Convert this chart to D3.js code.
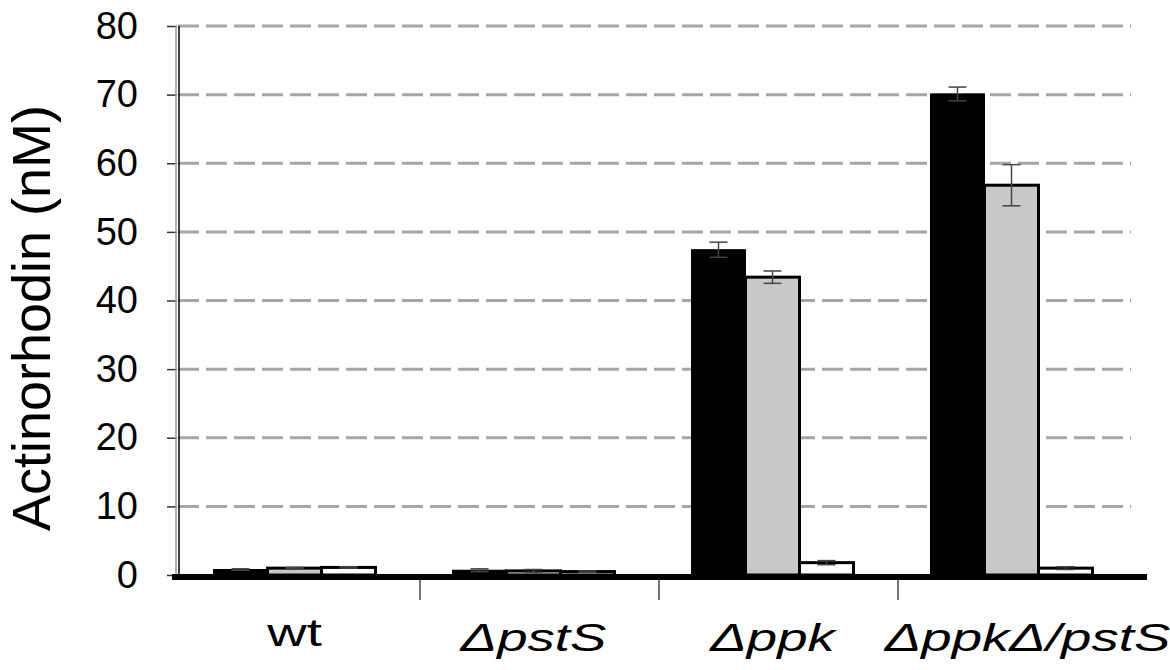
<!DOCTYPE html>
<html>
<head>
<meta charset='UTF-8' />
<title>Actinorhodin</title>
<style>
	body { margin: 0; background: #ffffff; }
	svg { display: block; font-family: 'Liberation Sans', Arial, sans-serif; }
	.grid line { stroke: #a6a6a6; stroke-width: 3px; stroke-dasharray: 21,7; }
	.y.axis text { font-size: 38px; fill: #000; }
	.y.axis line { stroke: #333; stroke-width: 1.5px; }
	.err { stroke: #444; stroke-width: 1.5px; fill: none; }
</style>
</head>
<body>
<script src='https://d3js.org/d3.v7.min.js'></script>
<script>
'use strict';
const categories = ['wt', '\u0394pstS', '\u0394ppk', '\u0394ppk\u0394/pstS'];
const seriesNames = ['black', 'gray', 'white'];
const blackValues = [0.8, 0.7, 47.4, 70.1];
const blackErrors = [0.1, 0.2, 1.1, 1.0];
const grayValues = [1.0, 0.6, 43.4, 56.8];
const grayErrors = [0.1, 0.2, 0.9, 3.0];
const whiteValues = [1.1, 0.5, 1.8, 1.0];
const whiteErrors = [0.1, 0.1, 0.3, 0.2];
const yTicks = [0, 10, 20, 30, 40, 50, 60, 70, 80];

const width = 1170, height = 670;
const fills = { black: '#000000', gray: '#c8c8c8', white: '#ffffff' };
const strokes = { black: 1, gray: 3, white: 3 };

const svg = d3.select('body').append('svg')
	.attr('width', width)
	.attr('height', height);

const x0 = d3.scaleBand()
	.domain(categories)
	.range([175, 1131]);

const x1 = d3.scaleBand()
	.domain(seriesNames)
	.range([0, x0.bandwidth()])
	.paddingOuter(0.713);

const y = d3.scaleLinear()
	.domain([0, 80])
	.range([575, 26]);

// dashed gridlines
svg.append('g')
	.attr('class', 'grid')
	.selectAll('line')
	.data(yTicks.filter(function(d) { return d > 0; }))
	.enter().append('line')
	.attr('x1', 178)
	.attr('x2', 1131)
	.attr('y1', function(d) { return y(d); })
	.attr('y2', function(d) { return y(d); });

// y axis (double line like the original)
const yAxis = svg.append('g')
	.attr('class', 'y axis')
	.attr('transform', 'translate(177,0)')
	.call(d3.axisLeft(y).tickValues(yTicks).tickSize(10).tickPadding(29));
yAxis.select('.domain').remove();
svg.append('line')
	.attr('x1', 176).attr('x2', 176)
	.attr('y1', y(80)).attr('y2', y(0))
	.attr('stroke', '#999').attr('stroke-width', 1.5);
svg.append('line')
	.attr('x1', 179).attr('x2', 179)
	.attr('y1', y(80)).attr('y2', y(0))
	.attr('stroke', '#000').attr('stroke-width', 1.5);

// bars
const rows = categories.map(function(c, i) {
	return [
		{ cat: c, s: 'black', v: blackValues[i], e: blackErrors[i] },
		{ cat: c, s: 'gray', v: grayValues[i], e: grayErrors[i] },
		{ cat: c, s: 'white', v: whiteValues[i], e: whiteErrors[i] }
	];
});

const groups = svg.append('g').selectAll('g')
	.data(rows)
	.enter().append('g')
	.attr('transform', function(d) { return 'translate(' + x0(d[0].cat) + ',0)'; });

groups.selectAll('rect')
	.data(function(d) { return d; })
	.enter().append('rect')
	.attr('x', function(d) { return x1(d.s); })
	.attr('width', x1.bandwidth())
	.attr('y', function(d) { return y(d.v); })
	.attr('height', function(d) { return y(0) - y(d.v); })
	.attr('fill', function(d) { return fills[d.s]; })
	.attr('stroke', '#000')
	.attr('stroke-width', function(d) { return strokes[d.s]; });

// error bars
const eb = groups.selectAll('g.err')
	.data(function(d) { return d; })
	.enter().append('g')
	.attr('class', 'err')
	.attr('transform', function(d) { return 'translate(' + (x1(d.s) + x1.bandwidth() / 2) + ',0)'; });
eb.append('line')
	.attr('x1', 0).attr('x2', 0)
	.attr('y1', function(d) { return y(d.v + d.e); })
	.attr('y2', function(d) { return y(Math.max(0, d.v - d.e)); });
eb.append('line')
	.attr('x1', -9).attr('x2', 9)
	.attr('y1', function(d) { return y(d.v + d.e); })
	.attr('y2', function(d) { return y(d.v + d.e); });
eb.append('line')
	.attr('x1', -9).attr('x2', 9)
	.attr('y1', function(d) { return y(Math.max(0, d.v - d.e)); })
	.attr('y2', function(d) { return y(Math.max(0, d.v - d.e)); });

// thick x axis line and category separators
svg.append('line')
	.attr('x1', 172).attr('x2', 1147)
	.attr('y1', y(0) + 2).attr('y2', y(0) + 2)
	.attr('stroke', '#000').attr('stroke-width', 6);
svg.append('g').selectAll('line')
	.data(categories.slice(1))
	.enter().append('line')
	.attr('x1', function(d) { return x0(d) + 6; })
	.attr('x2', function(d) { return x0(d) + 6; })
	.attr('y1', y(0) + 5)
	.attr('y2', y(0) + 25)
	.attr('stroke', '#444').attr('stroke-width', 1.5);

// category labels (stretched like the original)
svg.append('g').selectAll('text')
	.data(categories)
	.enter().append('text')
	.attr('transform', function(d, i) {
		const cx = x0(d) + x0.bandwidth() / 2 + (i === 3 ? 16 : 0);
		return 'translate(' + cx + ',' + (i === 0 ? 646 : 651) + ') scale(1.4,1)';
	})
	.attr('text-anchor', 'middle')
	.attr('font-size', 39)
	.attr('font-style', function(d, i) { return i === 0 ? 'normal' : 'italic'; })
	.text(function(d) { return d; });

// y axis title
svg.append('text')
	.attr('transform', 'translate(50,318) rotate(-90)')
	.attr('text-anchor', 'middle')
	.attr('font-size', 54)
	.text('Actinorhodin (nM)');
</script>
</body>
</html>
